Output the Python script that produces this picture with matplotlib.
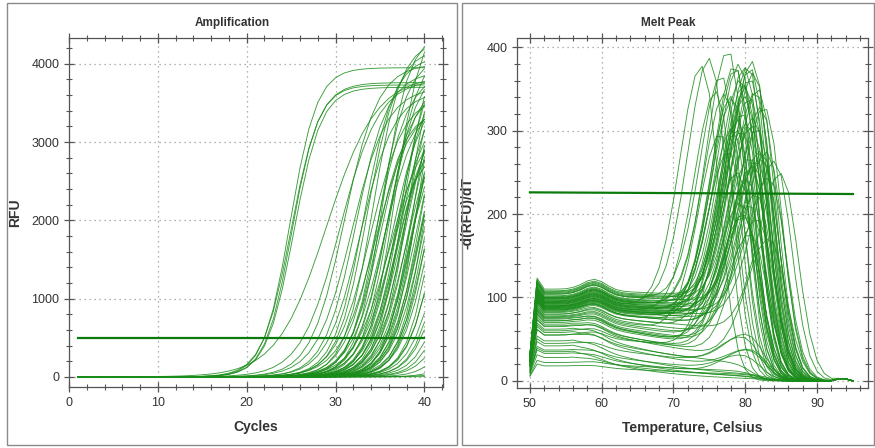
import numpy as np
import matplotlib
matplotlib.use("Agg")
import matplotlib.pyplot as plt
from matplotlib.patches import Rectangle
from matplotlib.ticker import MultipleLocator

plt.rcParams['font.family'] = ['Liberation Sans', 'DejaVu Sans']

# ---------------- Amplification data (per well: midpoint cycle, plateau RFU, slope) ----------------
cycles = np.arange(1, 41)
amp_threshold = 500

amp_mid = [24.9, 25.1, 25.3, 25.0,
           29.0, 30.5, 31.0, 31.8, 32.3, 32.8, 33.2,
           33.6, 33.9, 34.2, 34.5, 34.7, 34.9, 35.1, 35.3, 35.5, 35.7,
           35.9, 36.1, 36.2, 36.4, 36.6, 36.7, 36.9, 37.0, 37.2, 37.3,
           37.5, 37.6, 37.8, 37.9, 38.1, 38.2, 38.4, 38.5, 38.7, 38.8,
           39.0, 39.1, 39.3, 39.4, 39.6, 39.8, 40.0, 40.2, 40.4, 40.6,
           40.9, 41.2, 41.5, 41.8, 42.1, 42.5, 42.9, 43.4, 43.9, 44.6,
           45.5, 46.8, 48.0, 50.0, 36.8, 38.0, 39.2, 36.0, 39.7, 34.6]
amp_top = [3950, 3730, 3700, 3760,
           3850, 3800, 4000, 3700, 3900, 3650, 4100,
           4200, 3600, 4300, 3500, 3900, 4100, 3700, 4400, 3600, 3800,
           4000, 3300, 4200, 3700, 3500, 4600, 3900, 3400, 4100, 3800,
           3600, 4300, 3700, 4000, 3500, 4400, 3900, 3600, 4200, 3800,
           4000, 3700, 4500, 3600, 4100, 3900, 3800, 4300, 3700, 4000,
           3900, 4200, 3800, 4100, 3600, 4000, 3900, 3700, 4200, 3800,
           4000, 3600, 3900, 3500, 3100, 3000, 3300, 2900, 3200, 3400]
amp_k = [1.5, 1.5, 1.55, 1.6,
         2.8, 2.2, 1.9, 2.0, 1.8, 1.9, 1.7,
         1.7, 1.9, 1.6, 2.0, 1.8, 1.6, 1.8, 1.5, 1.9, 1.7,
         1.7, 2.0, 1.6, 1.8, 1.9, 1.5, 1.7, 1.8, 1.6, 1.7,
         1.8, 1.5, 1.7, 1.6, 1.8, 1.5, 1.7, 1.7, 1.5, 1.7,
         1.6, 1.7, 1.5, 1.7, 1.6, 1.7, 1.7, 1.5, 1.7, 1.6,
         1.7, 1.5, 1.6, 1.7, 1.7, 1.6, 1.7, 1.7, 1.6, 1.7,
         1.6, 1.5, 1.5, 1.4, 1.5, 1.4, 1.5, 1.6, 1.4, 1.6]

# ---------------- Melt peak data (per well: baseline level, decay, Tm, peak height) ----------------
temps = np.arange(50, 95.5, 1.0)
melt_threshold = 225

melt_level = [95, 100, 90, 105, 98, 92, 104, 96, 88, 108,
              85, 93, 99, 87, 101, 94, 90, 106, 97, 89,
              102, 84, 95, 110, 91, 86, 100, 93, 107, 88,
              96, 83, 99, 92, 104, 87, 94, 90, 80, 98,
              78, 86, 82, 76, 74, 80, 72, 77, 85, 89,
              62, 58, 55, 48, 45, 42, 37, 35, 33, 28,
              22, 18, 65, 60, 55, 70, 68, 75, 72, 66]
melt_decay = [180, 200, 160, 220, 190, 170, 240, 180, 150, 260,
              140, 170, 200, 150, 210, 180, 160, 230, 190, 150,
              210, 120, 170, 260, 160, 140, 200, 170, 240, 150,
              180, 110, 190, 160, 220, 130, 170, 150, 90, 190,
              60, 80, 70, 50, 45, 60, 40, 55, 90, 120,
              20, 18, 25, 14, 30, 12, 22, 10, 18, 16,
              40, 30, 35, 40, 60, 40, 30, 35, 45, 28]
melt_tm = [74.2, 75.3, 76.2, 77.0, 77.9, 78.8, 79.5, 80.2, 80.9, 81.3,
           78.3, 78.6, 79.0, 79.3, 79.7, 79.9, 80.1, 80.3, 80.4, 80.6,
           80.7, 80.9, 81.0, 81.1, 81.2, 81.4, 81.5, 81.6, 81.8, 82.0,
           82.1, 82.3, 82.5, 82.7, 83.0, 83.3, 83.7, 84.4, 85.2, 77.5,
           76.8, 78.0, 79.2, 80.0, 81.0, 82.0, 79.6, 80.8, 81.9, 78.5,
           80.5, 81.0, 79.5, 82.0, 80.0, 81.0, 80.0, 82.0, 80.5, 81.0,
           80.0, 81.0, 80.0, 81.0, 79.0, 80.5, 82.5, 79.8, 81.7, 83.5]
melt_peak = [305, 310, 280, 285, 322, 310, 300, 305, 300, 300,
             280, 270, 300, 250, 285, 230, 290, 260, 280, 245,
             300, 210, 270, 290, 240, 255, 295, 190, 265, 240,
             280, 220, 255, 200, 250, 215, 175, 200, 200, 270,
             250, 220, 200, 160, 140, 150, 180, 170, 210, 240,
             40, 25, 0, 0, 35, 0, 20, 0, 30, 0,
             0, 0, 170, 230, 270, 210, 250, 290, 190, 150]

line_color = '#1a8c1a'
thr_color = '#0b7a0b'


def style_axes(ax):
    for s in ax.spines.values():
        s.set_color('#555555')
        s.set_linewidth(0.9)
    ax.grid(True, which='major', linestyle=(0, (1, 3)), color='#999999', linewidth=0.9)
    ax.tick_params(which='both', direction='inout', top=True, right=True,
                   colors='#555555', labelcolor='#333333', labelsize=9)
    ax.tick_params(which='major', length=7, width=0.9)
    ax.tick_params(which='minor', length=4, width=0.8)


fig = plt.figure(figsize=(8.75, 4.48), dpi=100)

# panel borders
fig.add_artist(Rectangle((7 / 875, 3 / 448), 450 / 875, 442 / 448, transform=fig.transFigure,
                         fill=False, edgecolor='#8a8a8a', linewidth=1.0))
fig.add_artist(Rectangle((462 / 875, 3 / 448), 412 / 875, 442 / 448, transform=fig.transFigure,
                         fill=False, edgecolor='#8a8a8a', linewidth=1.0))

# Chart 1: Amplification
ax1 = fig.add_axes([69 / 875, 1 - 387 / 448, 374 / 875, 349 / 448])
for m, top, k in zip(amp_mid, amp_top, amp_k):
    rfu = top / (1 + np.exp(-(cycles - m) / k))
    ax1.plot(cycles, rfu, color=line_color, linewidth=0.65, alpha=0.85)
ax1.plot([cycles[0], cycles[-1]], [amp_threshold, amp_threshold], color=thr_color, linewidth=1.6)
ax1.set_xlim(0, 42.1)
ax1.set_ylim(-130, 4330)
ax1.xaxis.set_major_locator(MultipleLocator(10))
ax1.xaxis.set_minor_locator(MultipleLocator(2))
ax1.yaxis.set_major_locator(MultipleLocator(1000))
ax1.yaxis.set_minor_locator(MultipleLocator(200))
style_axes(ax1)
ax1.set_xlabel("Cycles", fontsize=10, fontweight='bold', color='#333333', labelpad=8)
ax1.set_ylabel("RFU", fontsize=10, fontweight='bold', color='#333333')
ax1.yaxis.set_label_coords(-0.125, 0.5)
fig.text(232 / 875, 1 - 23 / 448, "Amplification", ha='center', va='center',
         fontsize=8.5, fontweight='bold', color='#333333')

# Chart 2: Melt Peak
ax2 = fig.add_axes([517 / 875, 1 - 388 / 448, 351 / 875, 350 / 448])
for lvl, dec, tm, pk in zip(melt_level, melt_decay, melt_tm, melt_peak):
    bg = lvl * (1 + 0.12 * np.exp(-((temps - 59) / 2.2) ** 2)) * np.exp(-np.clip(temps - 56, 0, None) / dec)
    bg = np.where(temps < 50.5, lvl * 0.3, np.where(temps < 51.5, lvl * 1.12, bg))
    cut = 1 / (1 + np.exp((temps - tm - 1.5) / 1.0))
    sig = np.where(temps < tm, 3.2, 2.3)
    peak = pk * np.exp(-0.5 * ((temps - tm) / sig) ** 2)
    tail = 3 * np.exp(-((temps - 93.5) / 1.0) ** 2) * (temps < 94.8)
    ax2.plot(temps, bg * cut + peak + tail, color=line_color, linewidth=0.65, alpha=0.85)
ax2.plot([temps[0], temps[-1]], [melt_threshold + 1, melt_threshold - 1], color=thr_color, linewidth=1.6)
ax2.set_xlim(48.2, 97.1)
ax2.set_ylim(-8.5, 411)
ax2.xaxis.set_major_locator(MultipleLocator(10))
ax2.xaxis.set_minor_locator(MultipleLocator(2))
ax2.yaxis.set_major_locator(MultipleLocator(100))
ax2.yaxis.set_minor_locator(MultipleLocator(20))
style_axes(ax2)
ax2.set_xlabel("Temperature, Celsius", fontsize=10, fontweight='bold', color='#333333', labelpad=8)
ax2.set_ylabel("-d(RFU)/dT", fontsize=10, fontweight='bold', color='#333333')
ax2.yaxis.set_label_coords(-0.12, 0.5)
fig.text(668 / 875, 1 - 23 / 448, "Melt Peak", ha='center', va='center',
         fontsize=8.5, fontweight='bold', color='#333333')

fig.savefig("out.png", dpi=100)
